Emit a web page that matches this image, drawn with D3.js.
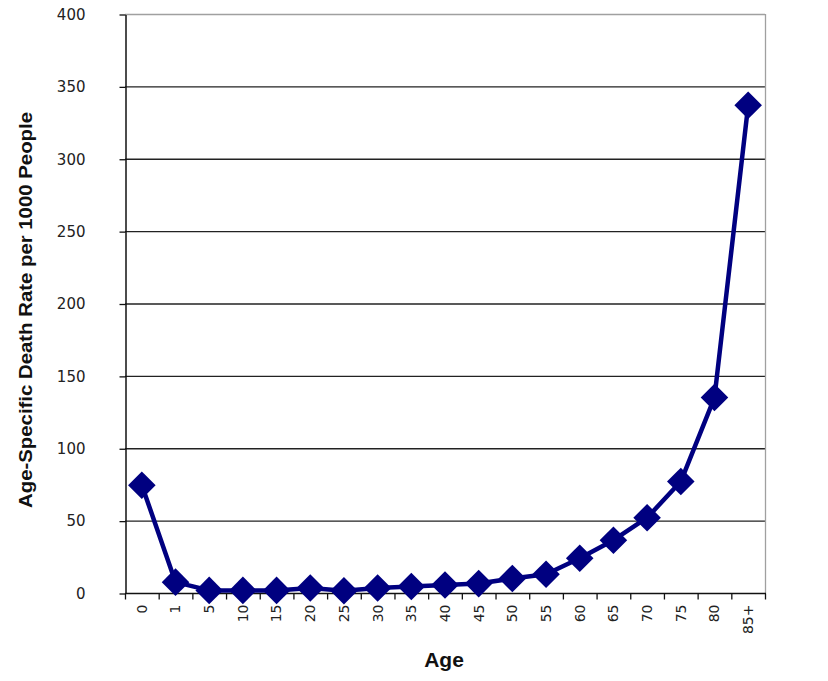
<!DOCTYPE html>
<html>
<head>
<meta charset="utf-8">
<script src="https://cdn.jsdelivr.net/npm/d3@7"></script>
<style>
  body { margin: 0; background: #fff; }
  svg { display: block; }
</style>
</head>
<body>
<div class="chart"></div>
<script>
// #region Data
const ageGroups = ['0', '1', '5', '10', '15', '20', '25', '30', '35', '40', '45', '50', '55', '60', '65', '70', '75', '80', '85+'];
const deathRates = [74.5, 7.5, 1.8, 1.8, 1.8, 3.5, 1.6, 3.5, 4.5, 5.5, 6.5, 10, 13, 24, 36.5, 52, 77, 135, 337];
const yTicks = [0, 50, 100, 150, 200, 250, 300, 350, 400];
// #endregion

const width = 828, height = 681;
const margin = { top: 14, right: 63, bottom: 88, left: 125 };
const plotBottom = height - margin.bottom;
const plotRight = width - margin.right;

const svg = d3.select('.chart')
    .append('svg')
    .attr('width', width)
    .attr('height', height);

// #region Scales
const xScale = d3.scaleBand()
    .domain(ageGroups)
    .range([margin.left, plotRight])
    .padding(0);

const yScale = d3.scaleLinear()
    .domain([0, 400])
    .range([plotBottom, margin.top]);
// #endregion

// #region Grid and frame
svg.append('g')
    .attr('class', 'grid')
    .selectAll('line')
    .data(yTicks.filter(t => t > 0))
    .enter()
    .append('line')
    .attr('x1', margin.left)
    .attr('x2', plotRight)
    .attr('y1', d => yScale(d) + 0.5)
    .attr('y2', d => yScale(d) + 0.5)
    .attr('stroke', d => d === 400 ? '#a0a0a0' : '#222')
    .attr('stroke-width', 1.3);

// right border
svg.append('line')
    .attr('x1', plotRight + 0.5)
    .attr('x2', plotRight + 0.5)
    .attr('y1', margin.top)
    .attr('y2', plotBottom)
    .attr('stroke', '#a0a0a0')
    .attr('stroke-width', 1.3);
// #endregion

// #region Y axis
const gYAxis = svg.append('g')
    .attr('class', 'yAxis')
    .attr('transform', 'translate(' + (margin.left + 0.5) + ',0.5)')
    .call(d3.axisLeft(yScale).tickValues(yTicks).tickSize(6).tickPadding(34).tickSizeOuter(0));
gYAxis.select('.domain').attr('stroke', '#111').attr('stroke-width', 1.5);
gYAxis.selectAll('.tick line').attr('stroke', '#111').attr('stroke-width', 1.3);
gYAxis.selectAll('.tick text')
    .attr('font-family', 'DejaVu Sans, sans-serif')
    .attr('font-size', 15)
    .attr('fill', '#222');

svg.append('text')
    .attr('class', 'yAxisTitle')
    .attr('transform', 'translate(31.5,310) rotate(-90)')
    .attr('text-anchor', 'middle')
    .attr('font-family', 'Liberation Sans, Arial, sans-serif')
    .attr('font-weight', 'bold')
    .attr('font-size', 18.5)
    .attr('textLength', 396)
    .attr('lengthAdjust', 'spacingAndGlyphs')
    .attr('fill', '#111')
    .text('Age-Specific Death Rate per 1000 People');
// #endregion

// #region X axis
const gXAxis = svg.append('g')
    .attr('class', 'xAxis')
    .attr('transform', 'translate(0,' + (plotBottom + 0.5) + ')');

gXAxis.append('line')
    .attr('x1', margin.left)
    .attr('x2', plotRight + 1)
    .attr('stroke', '#111')
    .attr('stroke-width', 1.5);

const boundaries = ageGroups.map(a => xScale(a)).concat([plotRight]);
gXAxis.selectAll('.boundTick')
    .data(boundaries)
    .enter()
    .append('line')
    .attr('class', 'boundTick')
    .attr('x1', d => d + 0.5)
    .attr('x2', d => d + 0.5)
    .attr('y1', 0)
    .attr('y2', 6)
    .attr('stroke', '#111')
    .attr('stroke-width', 1.3);

gXAxis.selectAll('.xLabel')
    .data(ageGroups)
    .enter()
    .append('text')
    .attr('class', 'xLabel')
    .attr('transform', d => 'translate(' + (xScale(d) + xScale.bandwidth() / 2) + ',11) rotate(-90)')
    .attr('text-anchor', 'end')
    .attr('dy', '0.35em')
    .attr('font-family', 'DejaVu Sans, sans-serif')
    .attr('font-size', 14)
    .attr('fill', '#222')
    .text(d => d);

svg.append('text')
    .attr('class', 'xAxisTitle')
    .attr('x', 444)
    .attr('y', 667)
    .attr('text-anchor', 'middle')
    .attr('font-family', 'Liberation Sans, Arial, sans-serif')
    .attr('font-weight', 'bold')
    .attr('font-size', 21)
    .attr('fill', '#111')
    .text('Age');
// #endregion

// #region Series
const points = ageGroups.map((a, i) => ({ age: a, value: deathRates[i] }));
const cx = d => xScale(d.age) + xScale.bandwidth() / 2;

svg.append('path')
    .datum(points)
    .attr('fill', 'none')
    .attr('stroke', '#000080')
    .attr('stroke-width', 4.5)
    .attr('stroke-linejoin', 'round')
    .attr('d', d3.line().x(cx).y(d => yScale(d.value)));

svg.append('g')
    .attr('class', 'markers')
    .selectAll('path')
    .data(points)
    .enter()
    .append('path')
    .attr('transform', d => 'translate(' + cx(d) + ',' + yScale(d.value) + ') rotate(45)')
    .attr('d', d3.symbol(d3.symbolSquare, 380))
    .attr('fill', '#000080');
// #endregion
</script>
</body>
</html>
